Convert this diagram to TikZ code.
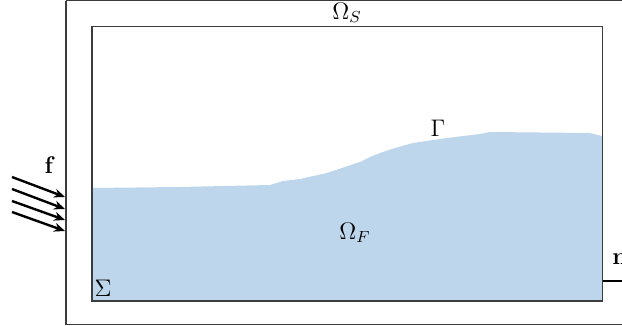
\documentclass[tikz,border=0pt]{standalone}
\usepackage{amsmath}
\usetikzlibrary{arrows.meta}
\definecolor{water}{RGB}{190,214,236}
\definecolor{frame}{RGB}{60,60,60}
\begin{document}
\begin{tikzpicture}[x=0.5pt,y=-0.5pt,
  lbl/.style={inner sep=0pt,font=\large},
  force/.style={line width=1.2pt,-{Stealth[length=5.5pt,width=4.5pt]}}]
\useasboundingbox (0,0) rectangle (622,326);
% outer solid domain
\draw[frame,line width=0.6pt] (66,0.8) -- (660,0.8) (66,0.8) -- (66,324.5) -- (660,324.5);
% fluid
\fill[water] (92,188) -- (180,187) -- (270,185) -- (283,181) -- (300,179) -- (327,173)
  -- (345,167) -- (360,162) -- (370,157) -- (380,153) -- (395,148) -- (413,143) -- (447,138) -- (480,134)
  -- (490,132) -- (590,133) -- (602,136) -- (602,301) -- (92,301) -- cycle;
% inner box
\draw[frame,line width=0.8pt] (92,26.5) rectangle (602.5,301);
% normal line
\coordinate (nstart) at (602.5,281);
\coordinate (nend) at (640,281);
\draw[line width=0.6pt] (nstart) -- (nend);
% labels
\node[lbl] (OS) at (347,13) {$\Omega_S$};
\node[lbl] (G) at (438,128) {$\Gamma$};
\node[lbl] (OF) at (355,233) {$\Omega_F$};
\node[lbl] (Sig) at (103,288) {$\Sigma$};
\node[lbl,anchor=west] (n) at (612,259) {$\mathbf{n}$};
\node[lbl] (f) at (50,165) {$\mathbf{f}$};
% forces
\foreach \i/\ys/\ye in {1/177/197,2/189/209,3/201/220,4/212/231}{
  \coordinate (fs\i) at (12,\ys);
  \coordinate (fe\i) at (65,\ye);
  \draw[force] (fs\i) -- (fe\i);
}
\end{tikzpicture}
\end{document}
